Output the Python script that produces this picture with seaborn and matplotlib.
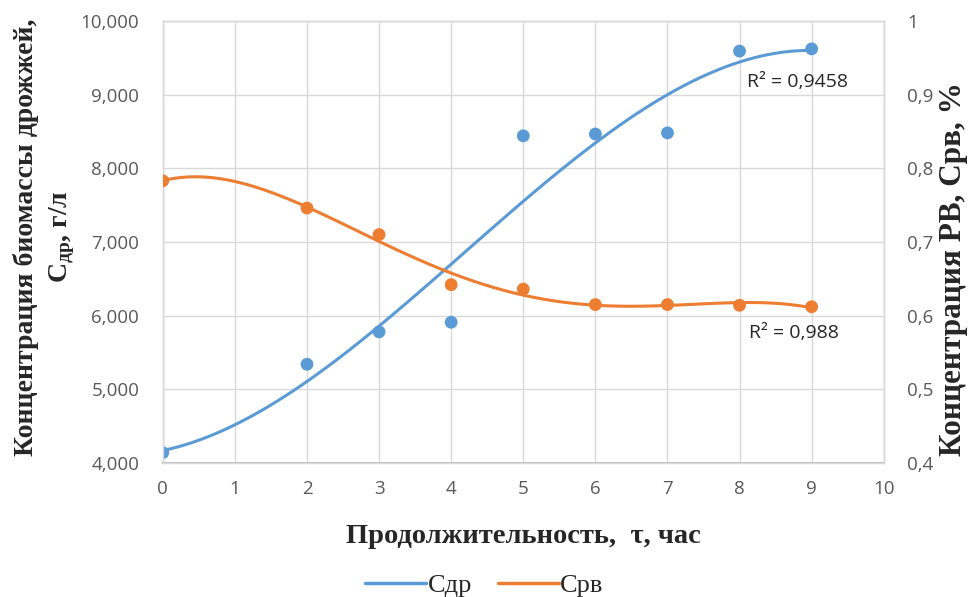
import numpy as np
import pandas as pd
import matplotlib
matplotlib.use("Agg")
import matplotlib.pyplot as plt
from matplotlib.ticker import FuncFormatter, MultipleLocator
from matplotlib.lines import Line2D
import seaborn as sns

# Duration of fermentation, hours
hours = [0, 2, 3, 4, 5, 6, 7, 8, 9]
# Yeast biomass concentration, g/l
c_yeast = [4140, 5340, 5780, 5910, 8440, 8465, 8480, 9590, 9620]
# Reducing sugars concentration, %
c_sugar = [0.783, 0.746, 0.710, 0.642, 0.636, 0.615, 0.615, 0.614, 0.612]

r2_labels = ["R² = 0,9458", "R² = 0,988"]
series_names = ["Сдр", "Срв"]

blue = "#5B9BD5"
orange = "#ED7D31"
grid_c = "#D9D9D9"
tick_c = "#595959"

sns.set_theme(style="white")
plt.rcParams["font.family"] = ["Open Sans", "DejaVu Sans"]

df = pd.DataFrame({"t": hours, "yeast": c_yeast, "sugar": c_sugar})

fig = plt.figure(figsize=(9.69, 5.97), dpi=100)
ax = fig.add_axes([0.168, 0.2245, 0.744, 0.7405])
ax2 = ax.twinx()

sns.regplot(data=df, x="t", y="yeast", order=3, ci=None, ax=ax,
            scatter_kws=dict(s=85, color=blue, edgecolor="none", alpha=1, zorder=4),
            line_kws=dict(color=blue, lw=2.2, zorder=3))
sns.regplot(data=df, x="t", y="sugar", order=4, ci=None, ax=ax2,
            scatter_kws=dict(s=85, color=orange, edgecolor="none", alpha=1, zorder=4),
            line_kws=dict(color=orange, lw=2.2, zorder=3))

ax.set_xlim(0, 10)
ax.set_ylim(4000, 10000)
ax2.set_ylim(0.4, 1.0)
ax.xaxis.set_major_locator(MultipleLocator(1))
ax.yaxis.set_major_locator(MultipleLocator(1000))
ax2.yaxis.set_major_locator(MultipleLocator(0.1))

ax.yaxis.set_major_formatter(FuncFormatter(lambda v, p: f"{v:,.0f}"))
ax.xaxis.set_major_formatter(FuncFormatter(lambda v, p: f"{v:.0f}"))
def fmt_right(v, p):
    s = f"{v:.1f}".rstrip("0").rstrip(".")
    return s.replace(".", ",")
ax2.yaxis.set_major_formatter(FuncFormatter(fmt_right))

ax.grid(True, color=grid_c, lw=1.0)
ax.set_axisbelow(True)
ax2.grid(False)
for a in (ax, ax2):
    for sp in a.spines.values():
        sp.set_color(grid_c)
        sp.set_linewidth(1.0)
    a.tick_params(length=0, labelsize=13.5, labelcolor=tick_c)
ax.tick_params(axis="y", pad=17)
ax.tick_params(axis="x", pad=12)
ax2.tick_params(axis="y", pad=17)
ax.spines["bottom"].set_color("#BFBFBF")
ax.spines["bottom"].set_linewidth(1.5)

serif = ["Liberation Serif", "DejaVu Serif"]
ax.set_xlabel("Продолжительность,  τ, час",
              family=serif, weight="bold", size=20.5)
ax.xaxis.set_label_coords(0.5, -0.138)
ax.set_ylabel("Концентрация биомассы дрожжей,\n$\\mathregular{С_{др}}$, г/л",
              linespacing=1.4, family=serif, weight="bold", size=20,
              va="center", ha="center")
ax.yaxis.set_label_coords(-0.163, 0.511)
ax2.set_ylabel("Концентрация РВ, Срв, %", rotation=90, va="center", ha="center",
               family=serif, weight="bold", size=22.5)
ax2.yaxis.set_label_coords(1.097, 0.439)

ax.text(8.11, 9172, r2_labels[0], fontsize=14, color="#262626",
        va="center", ha="left")
ax2.text(8.13, 0.576, r2_labels[1], fontsize=14, color="#262626",
         va="center", ha="left")

handles = [Line2D([0], [0], color=blue, lw=2.5),
           Line2D([0], [0], color=orange, lw=2.5)]
fig.legend(handles, series_names, loc="center", bbox_to_anchor=(0.5, 1 - 585 / 597),
           ncol=2, frameon=False, handlelength=2.3, handletextpad=0.05,
           columnspacing=1.0, prop=dict(family=serif, size=19))

fig.savefig("out.png", dpi=100)
